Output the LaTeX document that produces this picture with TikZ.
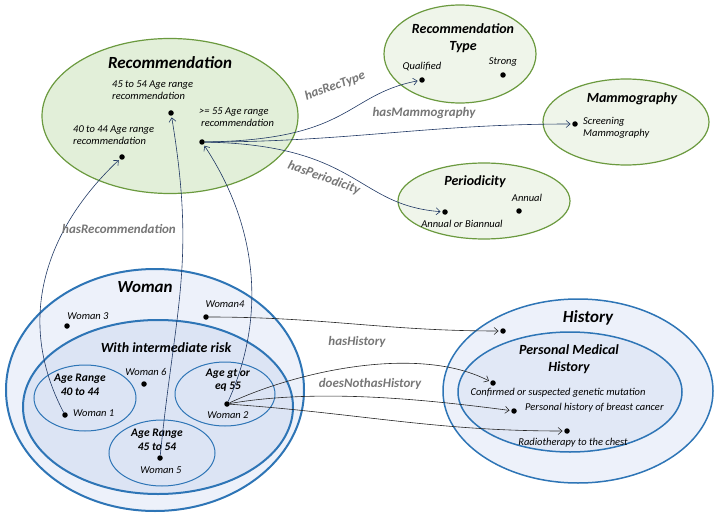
\documentclass[tikz,border=0pt]{standalone}
\usepackage{fontspec}
\setmainfont{Carlito}
\usepackage{xcolor}
\usetikzlibrary{shapes.geometric,arrows.meta,positioning}
\definecolor{recfill}{HTML}{E2EFD9}
\definecolor{subfill}{HTML}{EFF5EA}
\definecolor{recline}{HTML}{6B9A3F}
\definecolor{womfill}{HTML}{EDF1FA}
\definecolor{riskfill}{HTML}{DCE4F4}
\definecolor{womline}{HTML}{2E75B6}
\definecolor{navy}{HTML}{203864}
\definecolor{propgray}{HTML}{767676}

\begin{document}
\begin{tikzpicture}[x=1pt,y=-1pt,
    cls/.style={ellipse,draw,inner sep=0pt},
    recclass/.style={cls,draw=recline,line width=1.2pt,fill=subfill},
    womclass/.style={cls,draw=womline,fill=womfill},
    title/.style={font=\fontsize{17}{19}\selectfont\bfseries\itshape,inner sep=0pt},
    subtitle/.style={font=\fontsize{14}{17}\selectfont\bfseries\itshape,align=center,inner sep=0pt},
    agetitle/.style={font=\fontsize{11.5}{13.5}\selectfont\bfseries\itshape,align=center,inner sep=0pt},
    item/.style={font=\fontsize{10.5}{12.5}\selectfont\itshape,align=left,inner sep=0pt},
    dot/.style={circle,fill=black,inner sep=0pt,minimum size=5.5pt},
    prop/.style={font=\fontsize{13}{15}\selectfont\bfseries\itshape,text=propgray,inner sep=0pt},
    arrow/.style={-{Straight Barb[length=4pt,width=7pt]},semithick,draw=navy,shorten >=1.5pt},
    harrow/.style={arrow,draw=black!85}
  ]
  \useasboundingbox (0,0) rectangle (717,513);

  % Recommendation side
  \node[recclass,fill=recfill,minimum width=256pt,minimum height=155pt] (rec) at (170,116) {};
  \node[recclass,minimum width=152pt,minimum height=98pt] (rectype) at (460,54) {};
  \node[recclass,minimum width=166pt,minimum height=86pt] (mamm) at (626,122) {};
  \node[recclass,minimum width=172pt,minimum height=76pt] (period) at (484,201) {};

  \node[title] (rect) at (170,63) {Recommendation};
  \node[subtitle] (rectypet) at (463,38) {Recommendation\\Type};
  \node[subtitle] (mammt) at (632,99) {Mammography};
  \node[subtitle] (periodt) at (475,182) {Periodicity};

  \node[dot] (rec45) at (171,113) {};
  \node[dot] (rec40) at (122,157) {};
  \node[dot] (rec55) at (202,142) {};
  \node[item,anchor=west] (rec45t) at (112,90) {45 to 54 Age range\\recommendation};
  \node[item,anchor=west] (rec40t) at (73,135) {40 to 44 Age range\\recommendation};
  \node[item,anchor=west] (rec55t) at (199,117) {>= 55 Age range\\\hspace{2pt}recommendation};

  \node[dot] (qual) at (422,80) {};
  \node[dot] (strong) at (503,75) {};
  \node[item,above=6pt of qual] (qualt) {Qualified};
  \node[item,above=6pt of strong] (strongt) {Strong};
  \node[dot] (screen) at (575,124) {};
  \node[item,anchor=west] (screent) at (583,128) {Screening\\Mammography};
  \node[dot] (annual) at (519,211) {};
  \node[dot] (anybi) at (445,212) {};
  \node[item] (annualt) at (527,198) {Annual};
  \node[item] (anybit) at (462,224) {Annual or Biannual};

  \draw[arrow] (rec55) .. controls (352,140) and (345,95) .. (qual);
  \draw[arrow] (rec55) to[out=0,in=180] (screen);
  \draw[arrow] (rec55) .. controls (360,145) and (355,205) .. (anybi);
  \node[prop,rotate=20] (hasrectype) at (335,86) {hasRecType};
  \node[prop] (hasmamm) at (424,113) {hasMammography};
  \node[prop,rotate=-20] (hasperiod) at (324,178) {hasPeriodicity};

  % Woman side
  \node[womclass,line width=2pt,minimum width=298pt,minimum height=242pt] (woman) at (155,390) {};
  \node[womclass,line width=2pt,fill=riskfill,minimum width=270pt,minimum height=174pt] (risk) at (158,407) {};
  \node[womclass,fill=riskfill,line width=1pt,minimum width=102pt,minimum height=66pt] (age40) at (85,398) {};
  \node[womclass,fill=riskfill,line width=1pt,minimum width=100pt,minimum height=64pt] (age55) at (225,394) {};
  \node[womclass,fill=riskfill,line width=1pt,minimum width=106pt,minimum height=66pt] (age45) at (162,453) {};

  \node[title] (womant) at (145,287) {Woman};
  \node[subtitle] (riskt) at (166,348) {With intermediate risk};
  \node[agetitle] (age40t) at (80,385) {Age Range\\40 to 44};
  \node[agetitle] (age55t) at (228,380) {Age gt or\\eq 55};
  \node[agetitle] (age45t) at (157,440) {Age Range\\45 to 54};

  \node[dot] (w3) at (67,326) {};
  \node[item] (w3t) at (88,316) {Woman 3};
  \node[dot] (w4) at (206,317) {};
  \node[item] (w4t) at (225,304) {Woman4};
  \node[dot] (w6) at (144,384) {};
  \node[item] (w6t) at (146,372) {Woman 6};
  \node[dot] (w1) at (65,415) {};
  \node[item,anchor=west] (w1t) at (73,413) {Woman 1};
  \node[dot] (w2) at (227,404) {};
  \node[item] (w2t) at (228,415) {Woman 2};
  \node[dot] (w5) at (160,458) {};
  \node[item] (w5t) at (161,470) {Woman 5};

  % History side
  \node[womclass,line width=1.5pt,minimum width=270pt,minimum height=184pt] (hist) at (578,391) {};
  \node[womclass,line width=1.5pt,fill=riskfill!85!white,minimum width=224pt,minimum height=120pt] (pmh) at (570,392) {};
  \node[title] (histt) at (588,318) {History};
  \node[subtitle] (pmht) at (569,359) {Personal Medical\\History};
  \node[dot] (histd) at (503,331) {};
  \node[dot] (gene) at (493,383) {};
  \node[item] (genet) at (558,393) {Confirmed or suspected genetic mutation};
  \node[dot] (breast) at (514,411) {};
  \node[item,anchor=west] (breastt) at (525,408) {Personal history of breast cancer};
  \node[dot] (radio) at (567,431) {};
  \node[item] (radiot) at (573,443) {Radiotherapy to the chest};

  \draw[harrow] (w4) to[out=0,in=180] (histd);
  \draw[harrow] (w2) .. controls (300,370) and (420,345) .. (gene);
  \draw[harrow] (w2) .. controls (320,388) and (430,400) .. (breast);
  \draw[harrow] (w2) to[out=-4,in=180] (radio);
  \node[prop] (hashist) at (357,342) {hasHistory};
  \node[prop] (nothist) at (370,384) {doesNothasHistory};

  % Woman to Recommendation
  \draw[arrow] (w1) .. controls (15,320) and (45,230) .. (rec40);
  \draw[arrow] (w5) .. controls (175,308) and (196,263) .. (rec45);
  \draw[arrow] (w2) .. controls (265,320) and (260,230) .. (rec55);
  \node[prop] (hasrec) at (119,229) {hasRecommendation};
\end{tikzpicture}
\end{document}
